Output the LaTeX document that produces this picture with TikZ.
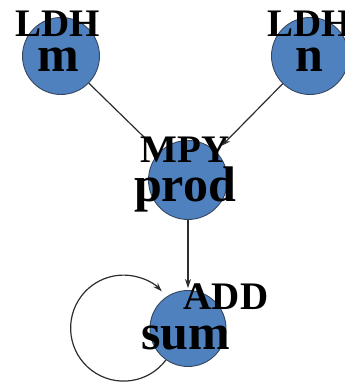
\documentclass[tikz,border=0pt]{standalone}
\usepackage{fontspec}
\setmainfont{Liberation Serif}
\usetikzlibrary{arrows.meta}
\definecolor{nodefill}{RGB}{79,129,191}
\definecolor{nodeline}{RGB}{55,70,95}
\definecolor{edgeline}{RGB}{45,45,45}
\begin{document}
\begin{tikzpicture}[x=1pt,y=1pt,
  opnode/.style={circle, fill=nodefill, draw=nodeline, line width=0.9pt,
    minimum size=#1, inner sep=0pt},
  kindlabel/.style={anchor=base, inner sep=0pt, font=\fontsize{39}{39}\selectfont\bfseries},
  namelabel/.style={anchor=base, inner sep=0pt, font=\fontsize{50}{50}\selectfont\bfseries},
  edge/.style={draw=edgeline, line width=1.2pt,
    -{Stealth[length=9pt,width=6pt]}}
]
\useasboundingbox (0,0) rectangle (345,386);
% operation nodes
\node[opnode=77pt] (m) at (61,330) {};
\node[opnode=77pt] (n) at (310,330) {};
\node[opnode=79pt] (prod) at (188,206) {};
\node[opnode=76pt] (sum) at (188,57.5) {};
% data-flow connectors
\draw[edge, shorten >=10pt] (m) -- (prod);
\draw[edge, shorten >=8pt] (n) -- (prod);
\draw[edge, shorten >=2pt] (prod) -- (sum);
\draw[edge] (sum.235) arc[start angle=-37, end angle=-316, radius=53pt];
% node texts
\node[kindlabel] (mkind) at (58,349) {LDH};
\node[namelabel] (mname) at (58,314) {m};
\node[kindlabel] (nkind) at (310,349) {LDH};
\node[namelabel] (nname) at (309,314) {n};
\node[kindlabel] (prodkind) at (185,223) {MPY};
\node[namelabel] (prodname) at (185,184) {prod};
\node[kindlabel] (sumkind) at (226,76) {ADD};
\node[namelabel] (sumname) at (186,36) {sum};
\end{tikzpicture}
\end{document}
